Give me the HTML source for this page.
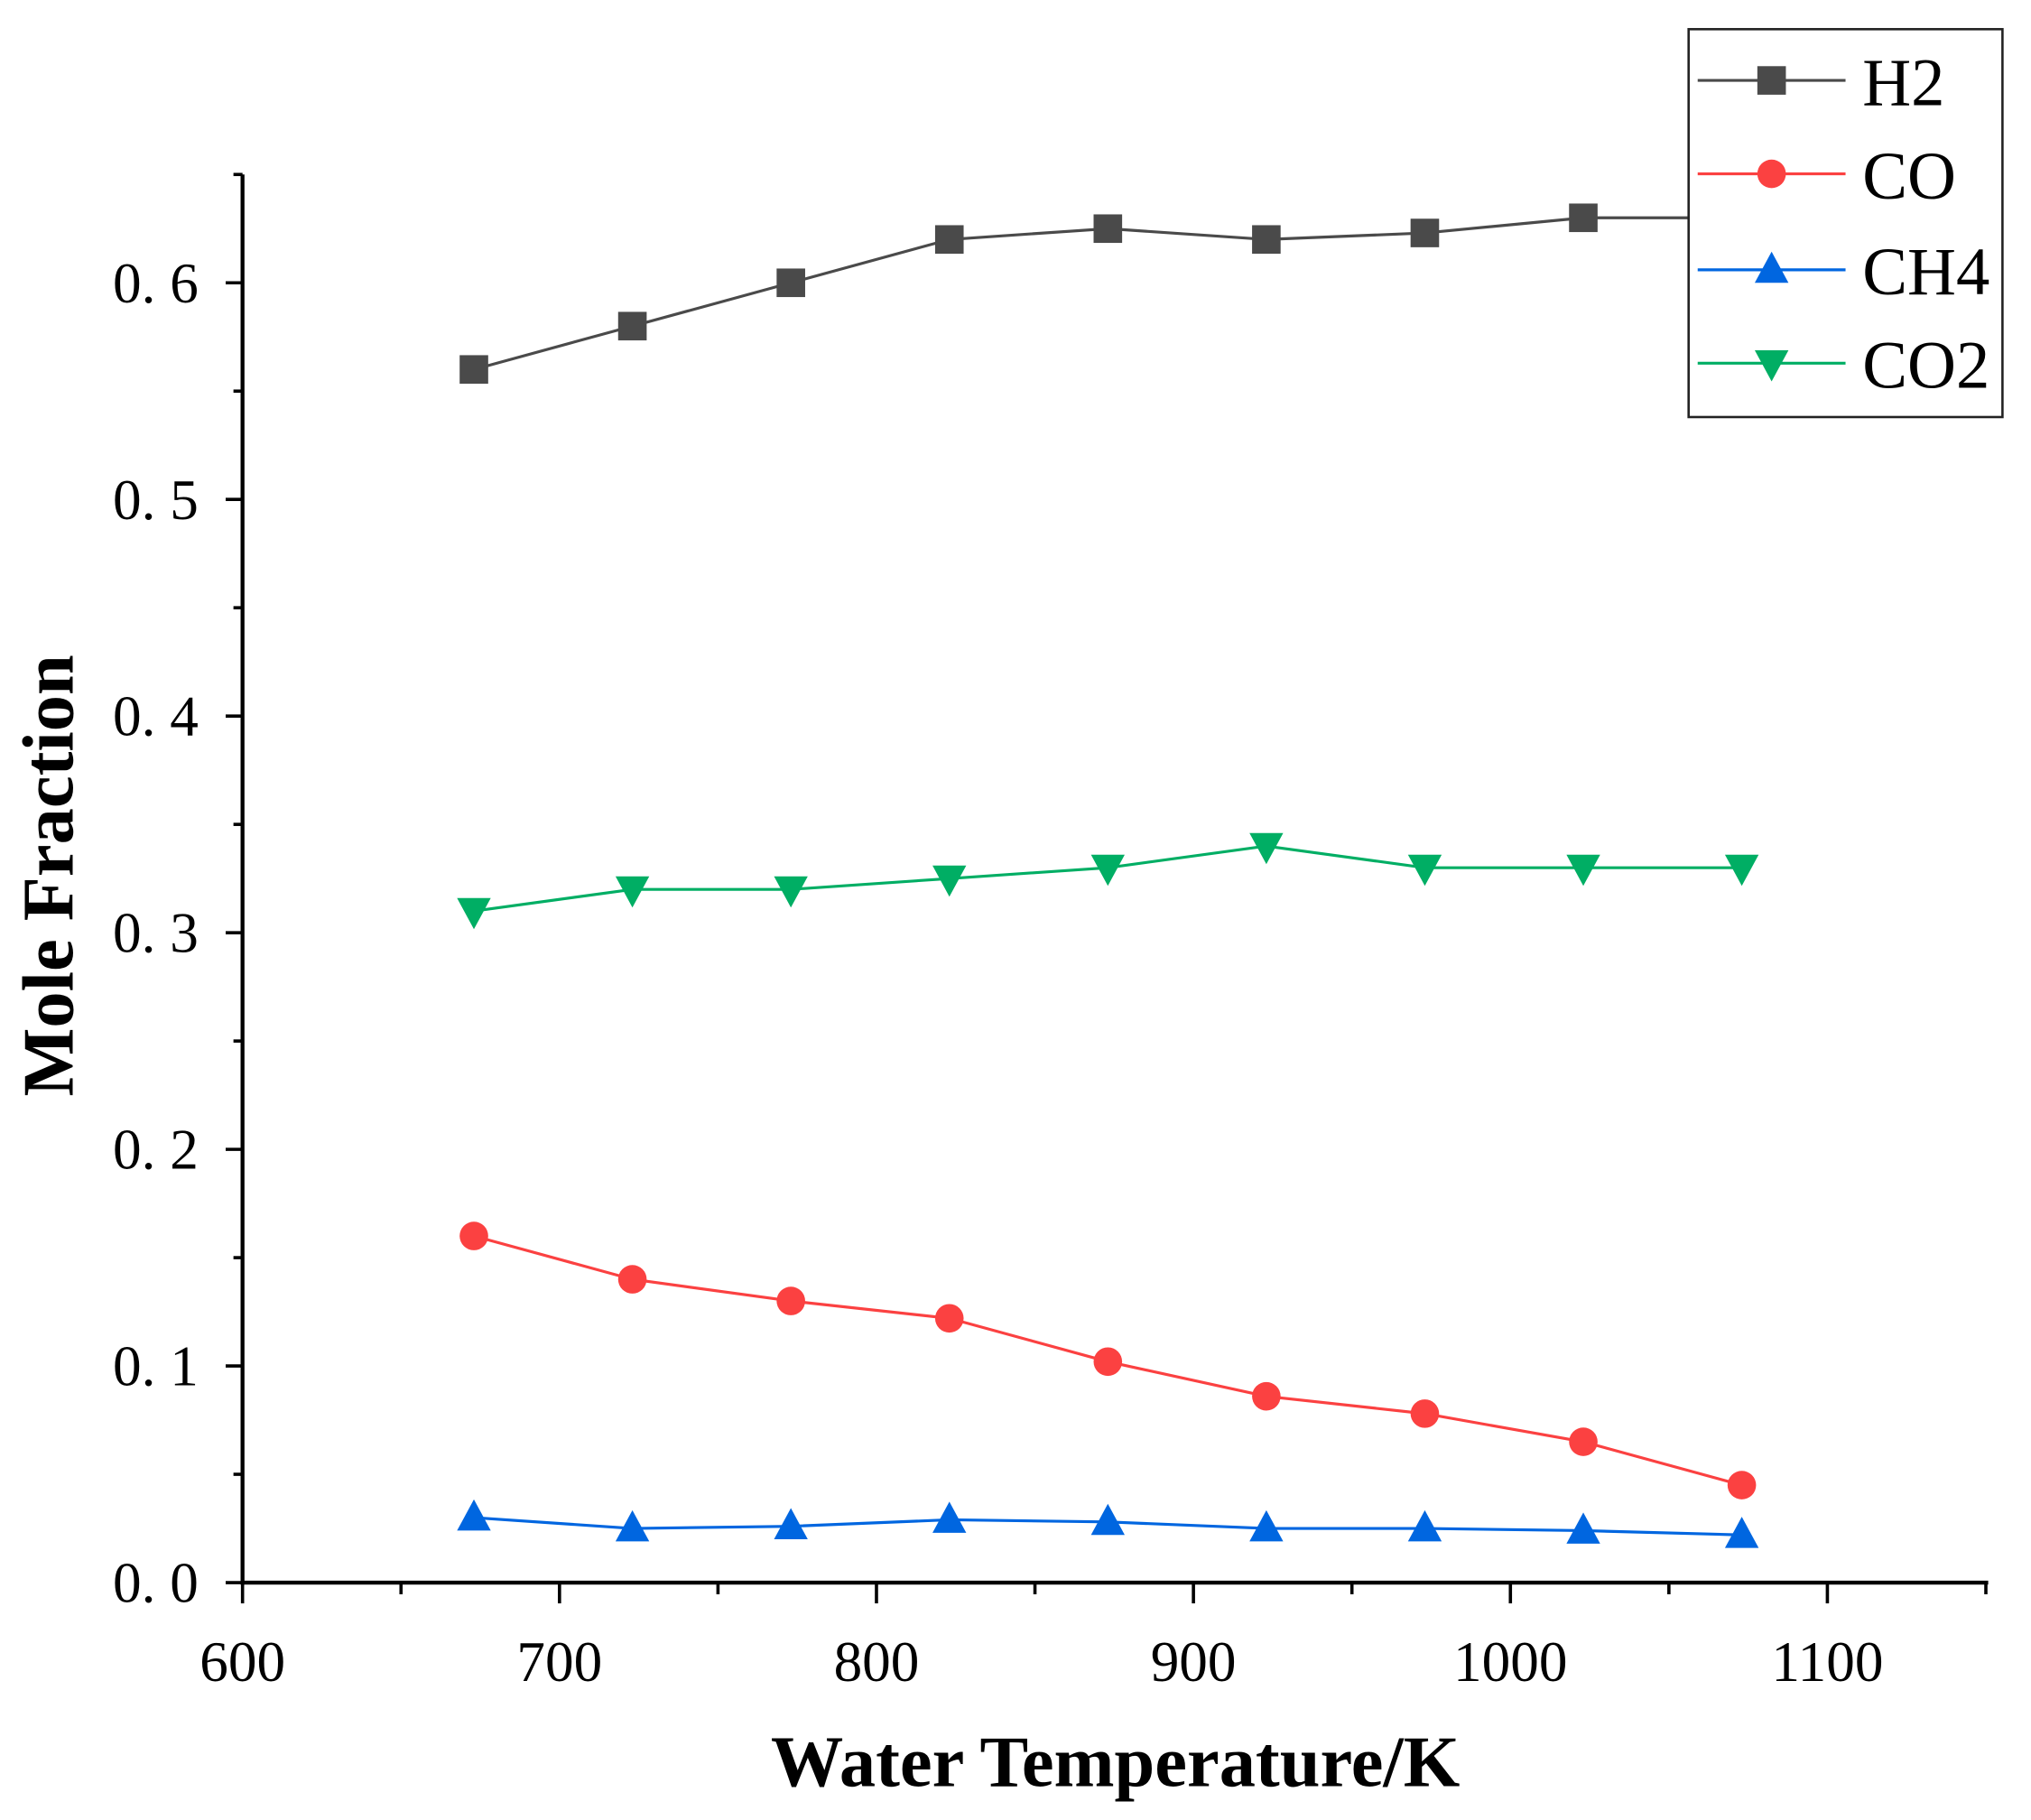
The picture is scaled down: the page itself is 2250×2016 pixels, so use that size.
<!DOCTYPE html>
<html><head><meta charset="utf-8"><style>html,body{margin:0;padding:0;background:#fff}svg{display:block}</style></head>
<body>
<svg id="chart" width="2250" height="2016" viewBox="0 0 1566 1403" preserveAspectRatio="none" xmlns="http://www.w3.org/2000/svg" font-family="'Liberation Serif', serif"></svg>
<script>
const temps = [673,723,773,823,873,923,973,1023,1073];
const h2 = [0.56,0.58,0.60,0.62,0.625,0.62,0.623,0.63,0.63];
const co = [0.16,0.14,0.13,0.122,0.102,0.086,0.078,0.065,0.045];
const ch4 = [0.030,0.025,0.026,0.029,0.028,0.025,0.025,0.024,0.022];
const co2 = [0.31,0.32,0.32,0.325,0.33,0.34,0.33,0.33,0.33];
const xTicks = [600,700,800,900,1000,1100];
const yTicks = [0,0.1,0.2,0.3,0.4,0.5,0.6];
const yTickLabels = ["0. 0","0. 1","0. 2","0. 3","0. 4","0. 5","0. 6"];

const NS="http://www.w3.org/2000/svg";
const svg=document.getElementById('chart');
const X=v=>187+(v-600)*(1222/500);
const Y=v=>1220-v*1670;
function mk(tag,attrs,parent){const e=document.createElementNS(NS,tag);for(const k in attrs)e.setAttribute(k,attrs[k]);(parent||svg).appendChild(e);return e;}

const ax=mk('g',{});


mk('line',{x1:187,y1:Y(0.65),x2:187,y2:1221.5,stroke:'#000','stroke-width':3},ax);
mk('line',{x1:185.5,y1:1220,x2:1533,y2:1220,stroke:'#000','stroke-width':3},ax);
for(let v=600;v<=1150;v+=50){const major=v%100===0;mk('line',{x1:X(v),y1:1220,x2:X(v),y2:major?1236:1229,stroke:'#000','stroke-width':2.5},ax);}
for(let i=0;i<=13;i++){const v=i*0.05;const major=i%2===0;mk('line',{x1:187,y1:Y(v),x2:major?174:180,y2:Y(v),stroke:'#000','stroke-width':2.5},ax);}
xTicks.forEach(v=>{const t=mk('text',{x:X(v),y:1296,'text-anchor':'middle','font-size':44},ax);t.textContent=v;

});
yTicks.forEach((v,i)=>{const t=mk('text',{x:153,y:Y(v)+15,'text-anchor':'end','font-size':44},ax);t.textContent=yTickLabels[i];

});
const xt=mk('text',{x:860,y:1377,'text-anchor':'middle','font-size':56,'font-weight':'bold'});xt.textContent='Water Temperature/K';


const yt=mk('text',{x:0,y:0,'text-anchor':'middle','font-size':56,'font-weight':'bold',transform:'translate(56,675) rotate(-90)'});yt.textContent='Mole Fraction';



function marker(type,cx,cy,color,parent){
  if(type==='sq')return mk('rect',{x:cx-11,y:cy-11,width:22,height:22,fill:color},parent);
  if(type==='ci')return mk('circle',{cx:cx,cy:cy,r:11,fill:color},parent);
  if(type==='up')return mk('polygon',{points:`${cx},${cy-14} ${cx-13},${cy+10} ${cx+13},${cy+10}`,fill:color},parent);
  return mk('polygon',{points:`${cx},${cy+14} ${cx-13},${cy-10} ${cx+13},${cy-10}`,fill:color},parent);
}
const series=[
  {name:'h2',label:'H2',vals:h2,color:'#4a4a4a',m:'sq'},
  {name:'co',label:'CO',vals:co,color:'#fb4141',m:'ci'},
  {name:'ch4',label:'CH4',vals:ch4,color:'#0066e0',m:'up'},
  {name:'co2',label:'CO2',vals:co2,color:'#00ae64',m:'dn'}
];
series.forEach(s=>{
  const g=mk('g',{});
  
  
  mk('polyline',{points:temps.map((t,i)=>X(t)+','+Y(s.vals[i])).join(' '),fill:'none',stroke:s.color,'stroke-width':2.2},g);
  temps.forEach((t,i)=>{const p=marker(s.m,X(t),Y(s.vals[i]),s.color,g);
    
    });
});
const lg=mk('g',{});


mk('rect',{x:1302,y:22.5,width:242,height:299,fill:'#fff',stroke:'#222','stroke-width':1.8},lg);
const rowY=[62,134,208,280];
series.forEach((s,i)=>{
  const e=mk('g',{},lg);
  
  
  mk('line',{x1:1309,y1:rowY[i],x2:1423,y2:rowY[i],stroke:s.color,'stroke-width':2.2},e);
  marker(s.m,1366,rowY[i],s.color,e);
  const t=mk('text',{x:1436,y:rowY[i]+19,'font-size':52},e);t.textContent=s.label;
});
</script>
</body></html>
